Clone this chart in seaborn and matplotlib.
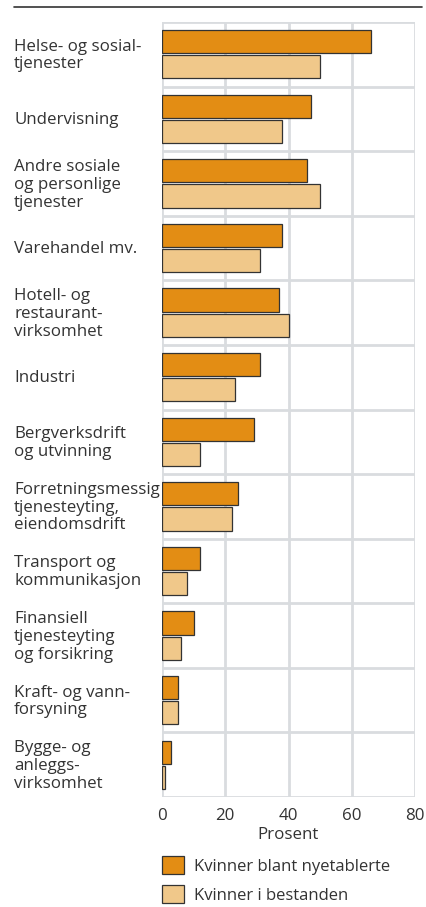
import matplotlib
matplotlib.use("Agg")
import matplotlib.pyplot as plt
from matplotlib.lines import Line2D
from matplotlib.ticker import FixedLocator
import seaborn as sns
import pandas as pd

categories = [
    "Helse- og sosial-\ntjenester",
    "Undervisning",
    "Andre sosiale\nog personlige\ntjenester",
    "Varehandel mv.",
    "Hotell- og\nrestaurant-\nvirksomhet",
    "Industri",
    "Bergverksdrift\nog utvinning",
    "Forretningsmessig\ntjenesteyting,\neiendomsdrift",
    "Transport og\nkommunikasjon",
    "Finansiell\ntjenesteyting\nog forsikring",
    "Kraft- og vann-\nforsyning",
    "Bygge- og\nanleggs-\nvirksomhet",
]
series_names = ["Kvinner blant nyetablerte", "Kvinner i bestanden"]
nyetablerte = [66, 47, 46, 38, 37, 31, 29, 24, 12, 10, 5, 3]
bestanden = [50, 38, 50, 31, 40, 23, 12, 22, 8, 6, 5, 1]
xticks = [0, 20, 40, 60, 80]

df = pd.DataFrame({
    "cat": categories * 2,
    "val": nyetablerte + bestanden,
    "series": [series_names[0]] * len(categories) + [series_names[1]] * len(categories),
})

sns.set_theme(style="white")
plt.rcParams["font.family"] = ["Open Sans", "DejaVu Sans"]
FS = 12.2
text_color = "#333333"

W, H = 426, 907
fig = plt.figure(figsize=(W / 100, H / 100), dpi=100)
ax = fig.add_axes([162 / W, 1 - 797 / H, (415 - 162) / W, (797 - 22) / H])

sns.barplot(data=df, y="cat", x="val", hue="series", orient="h",
            palette=["#e38d14", "#f0c88a"], saturation=1, width=0.78, gap=0.08,
            edgecolor="#333333", linewidth=0.9, ax=ax, zorder=3)

handles, labels = ax.get_legend_handles_labels()
if ax.get_legend() is not None:
    ax.get_legend().remove()

ax.set_xlim(0, 80)
ax.set_ylim(len(categories) - 0.5, -0.5)
ax.set_xticks(xticks)
ax.set_xticklabels([str(t) for t in xticks], fontsize=FS, color=text_color)
ax.yaxis.set_major_locator(FixedLocator(list(range(len(categories)))))
ax.set_yticklabels([])
ax.yaxis.set_minor_locator(FixedLocator([i - 0.5 for i in range(len(categories) + 1)]))
ax.tick_params(axis="both", which="both", length=0)
ax.tick_params(axis="x", pad=8)
ax.grid(True, axis="x", which="major", color="#d9dcdf", lw=2, zorder=0)
ax.grid(True, axis="y", which="minor", color="#d9dcdf", lw=2, zorder=0)
ax.grid(False, axis="y", which="major")
for s in ax.spines.values():
    s.set_visible(False)
ax.set_axisbelow(True)
ax.set_xlabel("Prosent", fontsize=FS, color=text_color, labelpad=2)
ax.set_ylabel("")

trans = matplotlib.transforms.blended_transform_factory(fig.transFigure, ax.transData)
for i, c in enumerate(categories):
    ax.text(14 / W, i + 0.02, c, transform=trans, ha="left", va="center",
            fontsize=FS, color=text_color, linespacing=1.15)

fig.add_artist(Line2D([14 / W, 422 / W], [1 - 7 / H, 1 - 7 / H], color="#333333", lw=1.2))

fig.legend(handles, labels, loc="upper left", bbox_to_anchor=(162 / W, 1 - 856 / H),
           frameon=False, fontsize=12, handlelength=1.32, handleheight=1.32,
           labelspacing=0.6, handletextpad=0.6, borderpad=0, borderaxespad=0,
           labelcolor=text_color)

fig.savefig("out.png", dpi=100)
